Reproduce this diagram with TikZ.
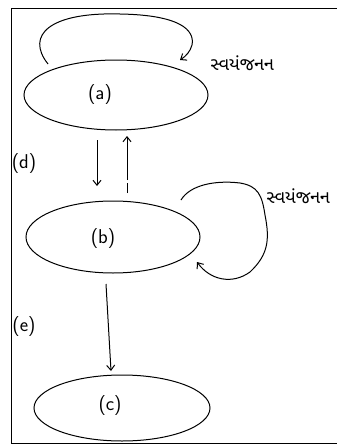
\documentclass[tikz,border=0pt]{standalone}
\usepackage{fontspec}
\newfontfamily\gujfont[Script=Gujarati]{Noto Sans Gujarati UI}
\usetikzlibrary{shapes.geometric,arrows.meta}
\begin{document}
\begin{tikzpicture}[x=1pt,y=-1pt,line width=1pt,
  blob/.style={draw,ellipse,inner sep=0pt},
  lbl/.style={font=\fontsize{20}{24}\selectfont\sffamily},
  guj/.style={font=\gujfont\fontsize{18}{21}\selectfont,anchor=west,inner sep=0pt},
  arr/.style={-{Straight Barb[length=5pt,width=8pt]}}]
\useasboundingbox (0,0) rectangle (337,447);
\clip (0,0) rectangle (337,447);
\fill[white] (0,0) rectangle (337,447);
% frame
\draw (337,8) -- (11,8) -- (11,443) -- (337,443);
% nodes
\node[blob,minimum width=184pt,minimum height=70pt] (a) at (116,95) {};
\node[blob,minimum width=174pt,minimum height=72pt] (b) at (113,237) {};
\node[blob,minimum width=176pt,minimum height=66pt] (c) at (122,408) {};
\node[lbl] (la) at (100,95) {(a)};
\node[lbl] (lb) at (103,239) {(b)};
\node[lbl] (lc) at (110,406) {(c)};
\node[lbl] (ld) at (24,164) {(d)};
\node[lbl] (le) at (24,327) {(e)};
\node[guj] (ga) at (210,63) {સ્વયંજનન};
\node[guj] (gb) at (266,196) {સ્વયંજનન};
% loop on (a)
\coordinate (a1) at (48,64);
\coordinate (a2) at (180,60);
\draw[arr] (a1) .. controls (25,35) and (50,12) .. (120,14)
  .. controls (180,15) and (195,30) .. (192,45) .. controls (190,52) and (186,56) .. (a2);
% arrows between a and b
\coordinate (ab1) at (97,140);
\coordinate (ab2) at (97,186);
\draw[arr] (ab1) -- (ab2);
\coordinate (ba1) at (127,193);
\coordinate (ba2) at (127,136);
\draw[arr,dash pattern=on 10pt off 3pt on 50pt] (ba1) -- (ba2);
% loop on (b)
\coordinate (b1) at (181,200);
\coordinate (b2) at (197,262);
\draw[arr] (b1) .. controls (190,185) and (215,180) .. (240,183)
  .. controls (258,186) and (262,195) .. (265,215)
  .. controls (270,240) and (268,255) .. (250,272)
  .. controls (232,285) and (210,280) .. (b2);
% arrow b to c
\coordinate (bc1) at (106,284);
\coordinate (bc2) at (111,371);
\draw[arr] (bc1) -- (bc2);
\end{tikzpicture}
\end{document}
